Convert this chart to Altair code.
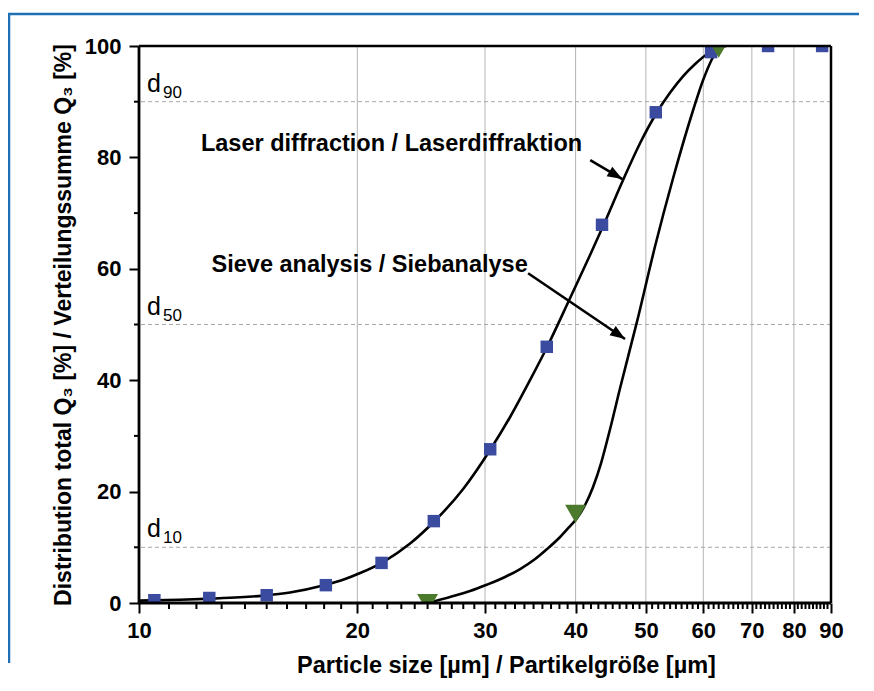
import altair as alt
import pandas as pd

# ---------------- data ----------------
laser_x = [10.5, 12.5, 15.0, 18.1, 21.6, 25.5, 30.5, 36.5, 43.5, 51.6, 61.5, 73.7, 87.5]
laser_y = [0.5, 0.9, 1.4, 3.2, 7.2, 14.7, 27.6, 46.0, 67.9, 88.1, 98.9, 100.0, 100.0]

sieve_x = [25.0, 40.0, 63.0]
sieve_y = [0.0, 16.0, 99.5]

laser_curve_x = [10.0, 11.39, 12.65, 13.78, 14.83, 16.15, 17.94, 19.24, 20.18, 21.71, 23.65,
                 25.61, 27.99, 30.49, 32.49, 34.62, 36.54, 39.31, 41.88, 43.65, 46.51, 49.10,
                 51.82, 54.01, 56.29, 58.47, 60.74, 62.49, 64.51]
laser_curve_y = [0.43, 0.59, 0.79, 1.02, 1.33, 1.89, 3.14, 4.31, 5.39, 7.36, 10.68,
                 14.81, 20.47, 27.47, 33.39, 40.04, 45.96, 54.76, 62.48, 67.68, 75.94, 82.59,
                 88.15, 91.65, 94.61, 96.77, 98.56, 99.53, 100.0]

sieve_curve_x = [25.0, 26.85, 28.61, 30.10, 31.97, 33.54, 35.18, 36.54, 38.08, 39.31, 40.19,
                 41.22, 42.28, 43.37, 44.63, 46.07, 48.63, 51.49, 54.52, 58.10, 59.97, 62.89,
                 63.49]
sieve_curve_y = [0.0, 1.08, 2.15, 3.23, 4.67, 6.10, 7.90, 9.69, 11.85, 13.82, 15.26,
                 17.59, 20.83, 25.13, 31.24, 38.60, 50.6, 64.09, 76.30, 88.51, 93.90, 99.46,
                 100.0]

x_ticks = [10, 20, 30, 40, 50, 60, 70, 80, 90]
x_minor = [d * 10 + u for d in range(1, 9) for u in range(1, 10)]
y_ticks = [0, 20, 40, 60, 80, 100]
y_minor = [10, 30, 50, 70, 90]

d_levels = [90, 50, 10]
d_subs = ["90", "50", "10"]

annot_text = ["Laser diffraction / Laserdiffraktion", "Sieve analysis / Siebanalyse"]
annot_x = [22.3, 20.8]
annot_y = [81.1, 59.4]

arrow_x1 = [41.9, 34.4]
arrow_y1 = [79.5, 59.2]
arrow_x2 = [46.4, 46.8]
arrow_y2 = [76.1, 47.4]
arrow_angle = [30.7, 34.2]

# ---------------- tables ----------------
laser_pts = pd.DataFrame({"x": laser_x, "y": laser_y})
sieve_pts = pd.DataFrame({"x": sieve_x, "y": sieve_y})
laser_line = pd.DataFrame({"x": laser_curve_x, "y": laser_curve_y})
sieve_line = pd.DataFrame({"x": sieve_curve_x, "y": sieve_curve_y})
xminor_df = pd.DataFrame({"x": x_minor})
yminor_df = pd.DataFrame({"y": y_minor})
dlev_df = pd.DataFrame({"y": d_levels, "sub": d_subs})
grid_df = pd.DataFrame({"x": x_ticks[1:-1]})
annot_df = pd.DataFrame({"x": annot_x, "y": annot_y, "t": annot_text})
arrow_df = pd.DataFrame({"x": arrow_x1, "y": arrow_y1, "x2": arrow_x2, "y2": arrow_y2,
                         "a": arrow_angle})

W, H = 692, 557
PAD = {"left": 131, "top": 38, "right": 35, "bottom": 75}
FONT = "Liberation Sans"

xscale = alt.Scale(type="log", domain=[10, 90], nice=False)
yscale = alt.Scale(domain=[0, 100], nice=False, zero=False)

xaxis = alt.Axis(values=x_ticks, format="d", grid=False, domain=False,
                 tickSize=10, tickWidth=2, tickColor="black",
                 labelFont=FONT, labelFontSize=22, labelFontWeight="bold", labelColor="black",
                 labelPadding=7, labelFlush=False, labelOverlap=False,
                 title="Particle size [µm] / Partikelgröße [µm]",
                 titleFont=FONT, titleFontSize=23.5, titleFontWeight="bold", titleColor="black",
                 titleX=367, titleY=69, titleBaseline="alphabetic", titleAlign="center")
yaxis = alt.Axis(values=y_ticks, grid=False, domain=False,
                 tickSize=10, tickWidth=2, tickColor="black",
                 labelFont=FONT, labelFontSize=22, labelFontWeight="bold", labelColor="black",
                 labelPadding=8, labelFlush=False,
                 title="Distribution total Q₃ [%] / Verteilungssumme Q₃ [%]",
                 titleFont=FONT, titleFontSize=23, titleFontWeight="bold", titleColor="black",
                 titleAngle=-90, titleX=-69, titleY=H / 2, titleBaseline="alphabetic",
                 titleAlign="center")

X = alt.X("x:Q", scale=xscale, axis=xaxis)
Y = alt.Y("y:Q", scale=yscale, axis=yaxis)

one = pd.DataFrame({"k": [0]})

# blue outer frame (decoration): only its top and left edges are inside the picture
frame_top = alt.Chart(one).mark_rule(color="#1f6fb4", strokeWidth=2.5).encode(
    x=alt.value(-131), x2=alt.value(W + 28), y=alt.value(-32), y2=alt.value(-32))
frame_left = alt.Chart(one).mark_rule(color="#1f6fb4", strokeWidth=2.5).encode(
    x=alt.value(-130), x2=alt.value(-130), y=alt.value(-33), y2=alt.value(H + 60))

vgrid = alt.Chart(grid_df).mark_rule(color="#b4b4b4", strokeWidth=1).encode(x=X)

dashed = alt.Chart(dlev_df).mark_rule(color="#a8a8a8", strokeWidth=1, strokeDash=[4, 3]).encode(y=Y)

xminor = alt.Chart(xminor_df).mark_rule(color="black", strokeWidth=2).encode(
    x=X, y=alt.value(H), y2=alt.value(H + 6))
yminor = alt.Chart(yminor_df).mark_rule(color="black", strokeWidth=2).encode(
    y=Y, x=alt.value(-5), x2=alt.value(0))

laser_curve = alt.Chart(laser_line).mark_line(color="black", strokeWidth=2.6,
                                              interpolate="monotone", clip=True).encode(x=X, y=Y)
sieve_curve = alt.Chart(sieve_line).mark_line(color="black", strokeWidth=2.6,
                                              interpolate="monotone", clip=True).encode(x=X, y=Y)

laser_marks = alt.Chart(laser_pts).mark_point(shape="square", filled=True, size=155,
                                              color="#3a4ba0", opacity=1, clip=True).encode(x=X, y=Y)
sieve_marks = alt.Chart(sieve_pts).mark_point(shape="triangle-down", filled=True, size=440,
                                              color="#4b7a2d", opacity=1, clip=True).encode(x=X, y=Y)

d_main = alt.Chart(dlev_df).mark_text(text="d", font=FONT, fontSize=25, align="left",
                                      baseline="alphabetic", dy=-10, color="black").encode(
    y=Y, x=alt.value(8))
d_sub = alt.Chart(dlev_df).mark_text(font=FONT, fontSize=17, align="left",
                                     baseline="alphabetic", dy=-4, color="black").encode(
    y=Y, x=alt.value(24), text="sub:N")

annots = alt.Chart(annot_df).mark_text(font=FONT, fontSize=23.5, fontWeight="bold", align="center",
                                       baseline="alphabetic", color="black").encode(
    x=X, y=Y, text="t:N")

arrow_lines = alt.Chart(arrow_df).mark_rule(color="black", strokeWidth=2.6).encode(
    x=X, y=Y, x2="x2:Q", y2="y2:Q")
arrow_heads = alt.Chart(arrow_df).mark_point(
    shape="M0,0L-1,-0.37L-1,0.37Z", filled=True, size=900, color="black", opacity=1
).encode(x=alt.X("x2:Q", scale=xscale, axis=xaxis), y=alt.Y("y2:Q", scale=yscale, axis=yaxis),
         angle=alt.Angle("a:Q", scale=None))

top_rule = alt.Chart(one).mark_rule(color="black", strokeWidth=2.5).encode(
    x=alt.value(0), x2=alt.value(W), y=alt.value(0), y2=alt.value(0))
bottom_rule = alt.Chart(one).mark_rule(color="black", strokeWidth=2.8).encode(
    x=alt.value(-1), x2=alt.value(W), y=alt.value(H), y2=alt.value(H))
left_rule = alt.Chart(one).mark_rule(color="black", strokeWidth=2.8).encode(
    x=alt.value(0), x2=alt.value(0), y=alt.value(0), y2=alt.value(H + 1))
right_rule = alt.Chart(one).mark_rule(color="black", strokeWidth=2.5).encode(
    x=alt.value(W), x2=alt.value(W), y=alt.value(0), y2=alt.value(H))

chart = alt.layer(
    frame_top, frame_left, vgrid, dashed, xminor, yminor,
    laser_curve, sieve_curve, arrow_lines, arrow_heads,
    laser_marks, sieve_marks, d_main, d_sub, annots,
    top_rule, bottom_rule, left_rule, right_rule
).properties(
    width=W, height=H,
    padding=PAD,
    autosize=alt.AutoSizeParams(type="none"),
    background="white"
).configure_view(stroke=None)

chart.save("out.html", embed_options={"renderer": "svg", "actions": False})
